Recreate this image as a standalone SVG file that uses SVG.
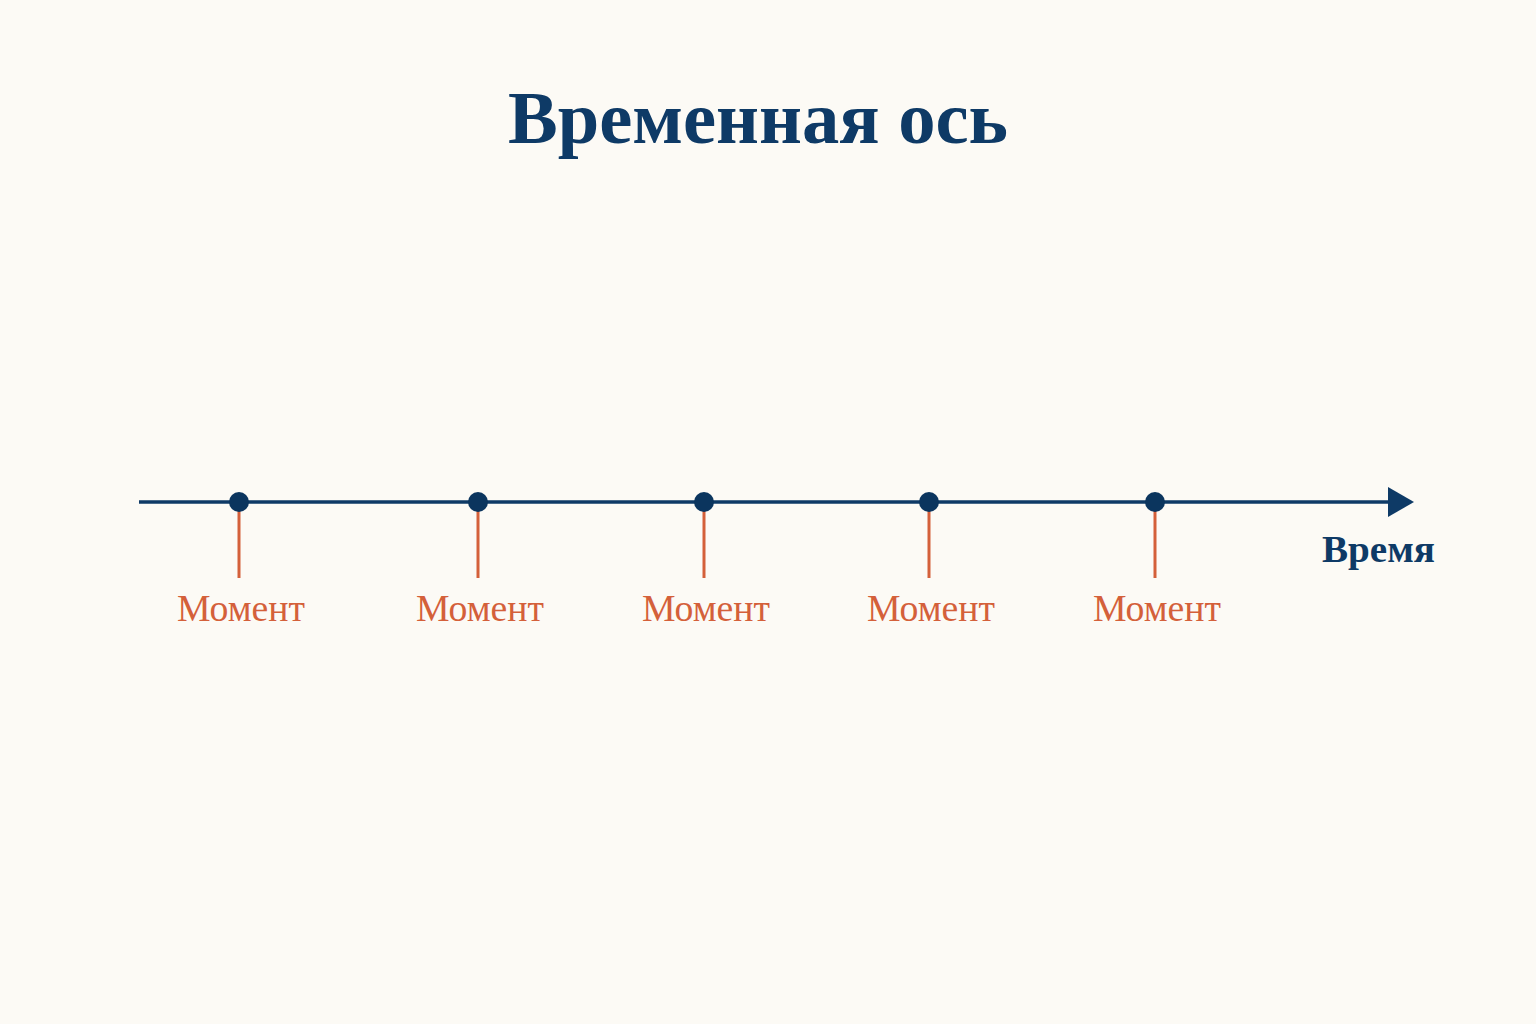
<svg xmlns="http://www.w3.org/2000/svg" width="1536" height="1024" viewBox="0 0 1536 1024">
<style>
.title{font-family:"Liberation Serif","DejaVu Serif",serif;font-weight:bold;font-size:75px;fill:#0e3a66}
.lbl{font-family:"Liberation Serif","DejaVu Serif",serif;font-size:37px;fill:#d4603a;text-anchor:middle}
.axislbl{font-family:"Liberation Serif","DejaVu Serif",serif;font-size:38px;fill:#0e3a66;font-weight:bold}
.tick{stroke:#d4603a;stroke-width:3}
.dot{fill:#0b355e}
</style>
<defs>
<marker id="arr" viewBox="0 0 10 10" refX="0" refY="5" markerWidth="26" markerHeight="30" markerUnits="userSpaceOnUse" orient="auto" preserveAspectRatio="none">
<path d="M0,0 L10,5 L0,10 Z" fill="#0e3a66"/>
</marker>
</defs>
<rect width="1536" height="1024" fill="#fcfaf5"/>
<text class="title" x="758" y="143" text-anchor="middle" textLength="500" lengthAdjust="spacingAndGlyphs">Временная ось</text>
<g id="connectors">
<line x1="139" y1="502" x2="1388" y2="502" stroke="#0e3a66" stroke-width="3.5" marker-end="url(#arr)"/>
</g>
<g id="axis-label"><text class="axislbl" x="1322" y="562" textLength="113" lengthAdjust="spacingAndGlyphs">Время</text></g>
<g id="m1"><line class="tick" x1="239" y1="510" x2="239" y2="578"/><circle class="dot" cx="239" cy="502" r="10"/><text class="lbl" x="241" y="621" textLength="128" lengthAdjust="spacingAndGlyphs">Момент</text></g>
<g id="m2"><line class="tick" x1="478" y1="510" x2="478" y2="578"/><circle class="dot" cx="478" cy="502" r="10"/><text class="lbl" x="480" y="621" textLength="128" lengthAdjust="spacingAndGlyphs">Момент</text></g>
<g id="m3"><line class="tick" x1="704" y1="510" x2="704" y2="578"/><circle class="dot" cx="704" cy="502" r="10"/><text class="lbl" x="706" y="621" textLength="128" lengthAdjust="spacingAndGlyphs">Момент</text></g>
<g id="m4"><line class="tick" x1="929" y1="510" x2="929" y2="578"/><circle class="dot" cx="929" cy="502" r="10"/><text class="lbl" x="931" y="621" textLength="128" lengthAdjust="spacingAndGlyphs">Момент</text></g>
<g id="m5"><line class="tick" x1="1155" y1="510" x2="1155" y2="578"/><circle class="dot" cx="1155" cy="502" r="10"/><text class="lbl" x="1157" y="621" textLength="128" lengthAdjust="spacingAndGlyphs">Момент</text></g>
</svg>
